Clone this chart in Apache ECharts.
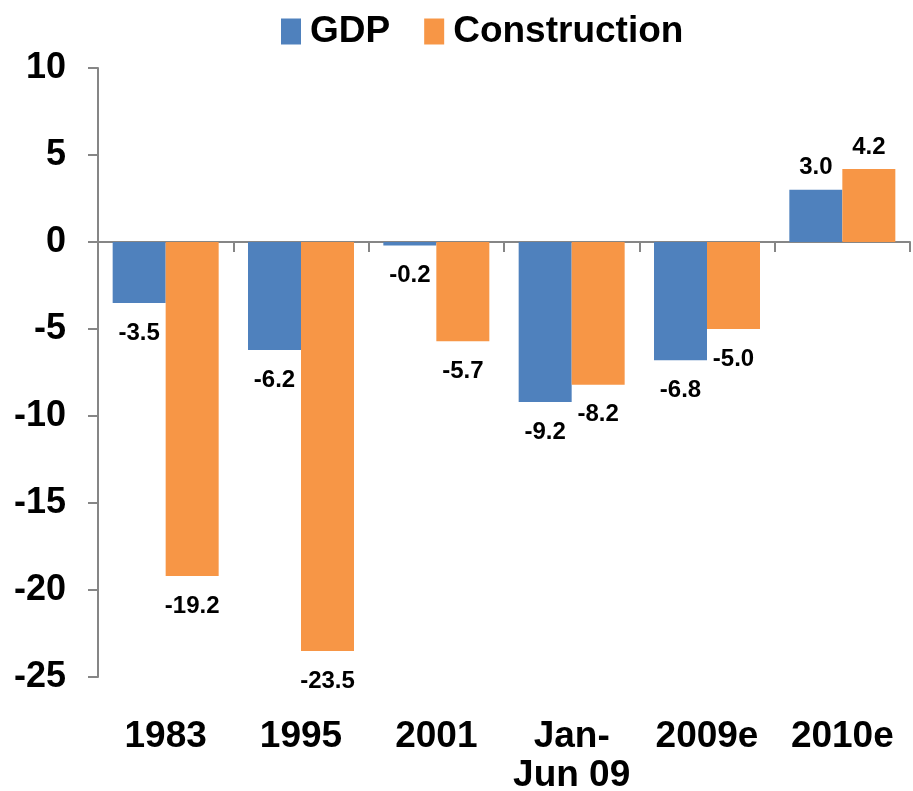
<!DOCTYPE html>
<html>
<head>
<meta charset="utf-8">
<script src="https://cdn.jsdelivr.net/npm/echarts@6/dist/echarts.min.js"></script>
<style>
  html, body { margin: 0; padding: 0; background: #fff; }
  #chart { width: 913px; height: 791px; }
</style>
</head>
<body>
<div id="chart"></div>
<script>
var categories = ["1983", "1995", "2001", "Jan-\nJun 09", "2009e", "2010e"];
var gdp = [-3.5, -6.2, -0.2, -9.2, -6.8, 3.0];
var construction = [-19.2, -23.5, -5.7, -8.2, -5.0, 4.2];
var seriesNames = ["GDP", "Construction"];

var font = "'Liberation Sans', Arial, sans-serif";
var axisGray = "#868686";

// negative bars get their label under the bar end, positive ones above
function withLabels(values) {
  return values.map(function (v) {
    return {
      value: v,
      label: { position: v < 0 ? "bottom" : "top", distance: v < 0 ? 18 : 10 }
    };
  });
}

var chart = echarts.init(document.getElementById("chart"));
chart.setOption({
  animation: false,
  textStyle: { fontFamily: font },
  legend: {
    top: 8,
    left: 276,
    itemWidth: 20,
    itemHeight: 26,
    itemGap: 34,
    icon: "rect",
    textStyle: {
      fontSize: 37,
      fontWeight: "bold",
      color: "#000",
      fontFamily: font,
      padding: [0, 0, 0, 4]
    },
    data: seriesNames
  },
  grid: { left: 98, right: 3, top: 68, bottom: 114, outerBoundsMode: "none" },
  xAxis: [
    {
      type: "category",
      data: categories,
      position: "bottom",
      axisLine: { show: false, onZero: false },
      axisTick: { show: false },
      axisLabel: {
        interval: 0,
        margin: 40,
        fontSize: 37,
        fontWeight: "bold",
        color: "#000",
        lineHeight: 39,
        fontFamily: font
      }
    },
    {
      type: "category",
      data: categories,
      position: "top",
      axisLine: { show: true, onZero: true, lineStyle: { color: axisGray, width: 2 } },
      axisTick: { show: true, inside: true, length: 10, lineStyle: { color: axisGray, width: 2 } },
      axisLabel: { show: false }
    }
  ],
  yAxis: {
    type: "value",
    min: -25,
    max: 10,
    interval: 5,
    axisLine: { show: true, lineStyle: { color: axisGray, width: 2 } },
    axisTick: { show: true, length: 10, lineStyle: { color: axisGray, width: 2 } },
    splitLine: { show: false },
    axisLabel: {
      margin: 32,
      fontSize: 36,
      fontWeight: "bold",
      color: "#000",
      fontFamily: font
    }
  },
  series: [
    {
      name: seriesNames[0],
      type: "bar",
      xAxisIndex: 0,
      barWidth: 53,
      barGap: "0%",
      itemStyle: { color: "#4F81BD" },
      label: {
        show: true,
        fontSize: 24,
        fontWeight: "bold",
        color: "#000",
        fontFamily: font,
        formatter: function (p) { return p.value.toFixed(1); }
      },
      data: withLabels(gdp)
    },
    {
      name: seriesNames[1],
      type: "bar",
      xAxisIndex: 0,
      barWidth: 53,
      barGap: "0%",
      itemStyle: { color: "#F79646" },
      label: {
        show: true,
        fontSize: 24,
        fontWeight: "bold",
        color: "#000",
        fontFamily: font,
        formatter: function (p) { return p.value.toFixed(1); }
      },
      data: withLabels(construction)
    }
  ]
});
</script>
</body>
</html>
